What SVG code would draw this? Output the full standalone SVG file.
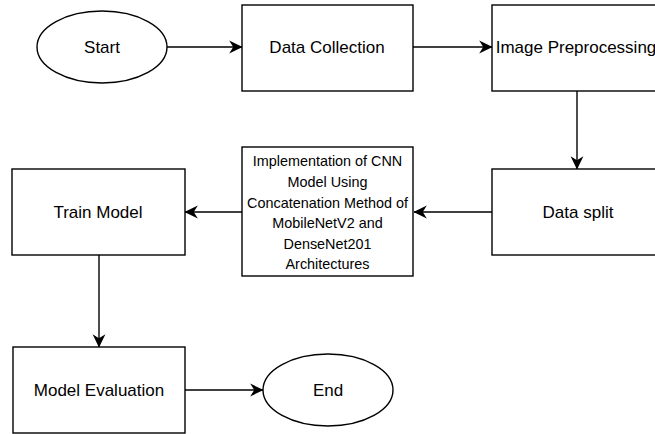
<svg xmlns="http://www.w3.org/2000/svg" width="655" height="434" viewBox="0 0 655 434">
<defs>
<marker id="arr" markerUnits="userSpaceOnUse" markerWidth="14" markerHeight="14" viewBox="0 0 12 12" refX="11" refY="6" orient="auto">
<path d="M0,0.5 L11.5,6 L0,11.5 L3.5,6 Z" fill="#000"/>
</marker>
<style>
.shape{fill:#fff;stroke:#000;stroke-width:1.4}
.lbl{font-family:"Liberation Sans",Arial,sans-serif;font-size:17px;fill:#000;text-anchor:middle;dominant-baseline:central}
.sm{font-family:"Liberation Sans",Arial,sans-serif;font-size:14.4px;fill:#000;text-anchor:middle}
.edge{fill:none;stroke:#000;stroke-width:1.4;marker-end:url(#arr)}
</style>
</defs>
<rect width="655" height="434" fill="#fff"/>
<g id="connectors">
<path class="edge" d="M167,47 L242,47"/>
<path class="edge" d="M413,47 L492,47"/>
<path class="edge" d="M577,91 L577,169"/>
<path class="edge" d="M492,212 L414,212"/>
<path class="edge" d="M242,212 L185,212"/>
<path class="edge" d="M99,255 L99,347"/>
<path class="edge" d="M185,390 L263,390"/>
</g>
<g id="start">
<ellipse class="shape" cx="102" cy="47" rx="65" ry="36"/>
<text class="lbl" x="102" y="47">Start</text>
</g>
<g id="data-collection">
<rect class="shape" x="242" y="5" width="171" height="86"/>
<text class="lbl" x="327" y="47">Data Collection</text>
</g>
<g id="image-preprocessing">
<rect class="shape" x="492" y="5" width="171" height="86"/>
<text class="lbl" x="576" y="47">Image Preprocessing</text>
</g>
<g id="data-split">
<rect class="shape" x="492" y="169" width="171" height="86"/>
<text class="lbl" x="578" y="212">Data split</text>
</g>
<g id="implementation">
<rect class="shape" x="242" y="147" width="171" height="129"/>
<text class="sm" x="327.5" y="166">Implementation of CNN</text>
<text class="sm" x="327.5" y="187">Model Using</text>
<text class="sm" x="327.5" y="208">Concatenation Method of</text>
<text class="sm" x="327.5" y="228">MobileNetV2 and</text>
<text class="sm" x="327.5" y="249">DenseNet201</text>
<text class="sm" x="327.5" y="269">Architectures</text>
</g>
<g id="train-model">
<rect class="shape" x="12" y="169" width="173" height="86"/>
<text class="lbl" x="98" y="212">Train Model</text>
</g>
<g id="model-evaluation">
<rect class="shape" x="13" y="347" width="172" height="86"/>
<text class="lbl" x="99" y="390">Model Evaluation</text>
</g>
<g id="end">
<ellipse class="shape" cx="328" cy="390" rx="65" ry="36"/>
<text class="lbl" x="328" y="390">End</text>
</g>
</svg>
